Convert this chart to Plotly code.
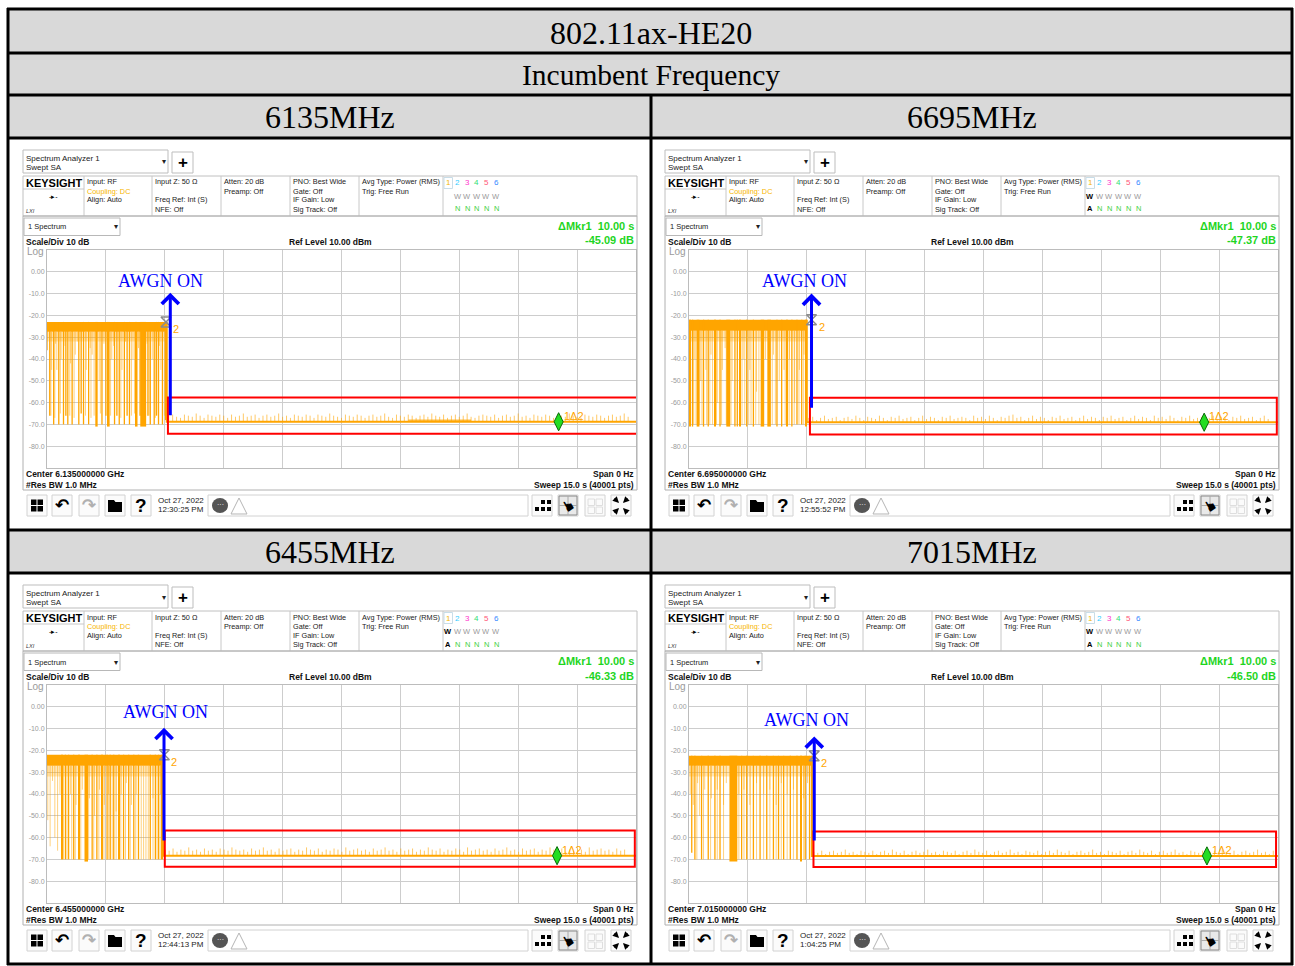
import plotly.graph_objects as go

W, H = 1295, 966

# ---------------- data ----------------
TITLE = "802.11ax-HE20"
SUBTITLE = "Incumbent Frequency"
FREQ_LABELS = ["6135MHz", "6695MHz", "6455MHz", "7015MHz"]
CENTER_GHZ = ["6.135000000", "6.695000000", "6.455000000", "7.015000000"]
DATES = ["12:30:25 PM", "12:55:52 PM", "12:44:13 PM", "1:04:25 PM"]
DELTA_T = 10.00
DELTA_DB = [-45.09, -47.37, -46.33, -46.50]
TRACE1_ON = [False, True, True, True]

Y_TICKS = [0, -10, -20, -30, -40, -50, -60, -70, -80]
Y_TICK_TEXT = ["0.00", "-10.0", "-20.0", "-30.0", "-40.0", "-50.0", "-60.0", "-70.0", "-80.0"]

# burst of the incumbent signal, then the floor after AWGN is on
BURST_END = [3.05, 3.00, 2.96, 3.13]
BURST_TOP = [-23.0, -22.0, -22.0, -22.5]
BURST_LOW = [-27.5, -27.0, -27.0, -27.0]
FLOOR_DB = [-68.8, -69.0, -68.3, -68.4]
FLOOR_BANDS = [(9.2, 10.8), None, None, None]
MKR2_T = [3.03, 3.12, 2.99, 3.19]

# deep dropouts inside the burst: (time s, level dB, width s; 0 = thin line)
P1_DROPS = [(0.00, -36, 0), (0.07, -66, 0), (0.17, -70, 0), (0.30, -70, 0), (0.42, -70, 0),
            (0.48, -66, 0), (0.53, -70, 0), (0.64, -70, 0), (0.81, -70, 0), (0.87, -65, 0),
            (0.93, -70, 0), (1.06, -70, 0), (1.26, -71, 0.06), (1.40, -70, 0), (1.50, -66, 0),
            (1.57, -71, 0.05), (1.72, -70, 0), (1.78, -66, 0), (1.84, -70, 0), (1.97, -70, 0),
            (2.04, -66, 0), (2.10, -70, 0), (2.28, -71, 0.05), (2.37, -66, 0), (2.45, -71, 0.15),
            (2.57, -66, 0), (2.63, -70, 0), (2.73, -70, 0), (2.79, -66, 0), (2.84, -70, 0),
            (2.94, -70, 0), (3.02, -68, 0)]
P2_DROPS = [(0.03, -71, 0.03), (0.09, -71, 0), (0.23, -71, 0.07), (0.37, -71, 0), (0.49, -71, 0),
            (0.66, -71, 0.03), (0.79, -71, 0), (1.00, -71, 0.10), (1.17, -71, 0), (1.23, -71, 0),
            (1.30, -71, 0.03), (1.47, -71, 0), (1.64, -71, 0), (1.87, -71, 0.09), (2.04, -71, 0.09),
            (2.24, -71, 0), (2.36, -71, 0), (2.49, -71, 0.03), (2.62, -71, 0), (2.75, -70, 0),
            (2.87, -70, 0), (2.98, -71, 0.03)]
P3_DROPS = [(0.38, -70, 0.02), (0.47, -70, 0), (0.55, -70, 0), (0.68, -70, 0), (0.81, -70, 0.02),
            (1.00, -71, 0.09), (1.15, -70, 0), (1.27, -70, 0), (1.40, -70, 0.02), (1.53, -70, 0),
            (1.61, -70, 0), (1.70, -70, 0), (1.83, -70, 0.02), (1.95, -70, 0), (2.08, -70, 0),
            (2.21, -70, 0), (2.33, -70, 0), (2.63, -70, 0), (2.76, -70, 0), (2.84, -70, 0),
            (2.93, -70, 0.02)]
P4_DROPS = [(0.07, -67, 0), (0.15, -70, 0), (0.32, -70, 0), (0.49, -70, 0), (0.66, -70, 0),
            (0.79, -70, 0), (1.13, -71, 0.20), (1.34, -70, 0), (1.47, -70, 0), (1.64, -70, 0),
            (1.81, -70, 0), (1.98, -70, 0), (2.15, -70, 0), (2.28, -70, 0), (2.41, -70, 0),
            (2.58, -70, 0), (2.75, -70, 0), (2.85, -71, 0.02), (2.96, -70, 0), (3.07, -70, 0)]

# faint dips inside the burst: (time s, level dB)
P1_DIPS = [(0.12, -45), (0.25, -45), (0.36, -40), (0.60, -42), (0.72, -38), (1.00, -45),
           (1.15, -38), (1.33, -50), (1.65, -40), (1.91, -45), (2.19, -40), (2.68, -40),
           (2.90, -45), (0.22, -33), (0.46, -34), (0.77, -32), (1.10, -35), (1.45, -33),
           (1.70, -34), (2.00, -32), (2.33, -35), (2.55, -33), (2.86, -34),
           (0.10, -66), (0.20, -67), (0.34, -65), (0.58, -66), (0.69, -67), (0.98, -66),
           (1.12, -67), (1.20, -66), (1.36, -65), (1.62, -66), (1.88, -67), (2.15, -66),
           (2.23, -65), (2.50, -67), (2.60, -66), (2.76, -67), (2.99, -66)]
P2_DIPS = [(0.15, -40), (0.30, -50), (0.43, -45), (0.56, -38), (0.72, -60), (0.85, -45),
           (0.92, -35), (1.10, -50), (1.38, -40), (1.55, -45), (1.72, -55), (1.95, -40),
           (2.15, -38), (2.30, -50), (2.42, -45), (2.56, -40), (2.69, -60), (2.81, -45),
           (2.93, -38),
           (0.12, -70), (0.18, -70), (0.27, -70), (0.33, -70), (0.45, -70), (0.53, -70),
           (0.60, -70), (0.70, -70), (0.83, -70), (0.95, -70), (1.07, -70), (1.35, -70),
           (1.42, -70), (1.52, -70), (1.58, -70), (1.70, -70), (1.78, -70), (2.12, -70),
           (2.20, -70), (2.45, -70), (2.55, -70), (2.68, -70), (2.80, -70), (2.92, -70)]
P3_DIPS = [(0.02, -52), (0.08, -64), (0.14, -34), (0.20, -60), (0.27, -66), (0.33, -40),
           (0.60, -40), (0.74, -45), (0.90, -38), (1.08, -42), (1.21, -50), (1.34, -38),
           (1.46, -45), (1.57, -40), (1.76, -48), (1.89, -40), (2.02, -35), (2.15, -45),
           (2.27, -40), (2.40, -70), (2.46, -70), (2.52, -70), (2.70, -42), (2.89, -40),
           (0.42, -70), (0.51, -70), (0.63, -70), (0.72, -70), (0.86, -70), (1.06, -70),
           (1.19, -70), (1.32, -70), (1.45, -70), (1.57, -70), (1.66, -70), (1.76, -70),
           (1.88, -70), (2.00, -70), (2.12, -70), (2.26, -70), (2.58, -70), (2.70, -70),
           (2.80, -70), (2.88, -70)]
P4_DIPS = [(0.03, -40), (0.11, -45), (0.22, -35), (0.27, -50), (0.40, -38), (0.57, -42),
           (0.72, -38), (0.88, -45), (0.95, -35), (1.27, -40), (1.40, -38), (1.55, -45),
           (1.72, -35), (1.90, -40), (2.06, -38), (2.22, -45), (2.35, -35), (2.50, -40),
           (2.66, -38), (2.92, -42), (3.02, -35),
           (0.20, -70), (0.37, -70), (0.55, -70), (0.72, -70), (0.88, -70), (1.27, -70),
           (1.40, -70), (1.56, -70), (1.72, -70), (1.90, -70), (2.06, -70), (2.22, -70),
           (2.35, -70), (2.50, -70), (2.66, -70), (2.92, -70)]

# peaks of the small spikes on the floor, one every 0.1 s after the burst
P1_SPIKES = [-66.0, -65.5, -66.5, -67.0, -65.5, -66.0, -66.5, -65.0, -66.0, -67.0,
             -65.5, -66.0, -66.5, -65.5, -66.0, -67.0, -65.5, -66.5, -66.0, -65.0,
             -66.5, -66.0, -65.5, -67.0, -66.0, -65.5, -66.5, -66.0, -65.0, -66.5,
             -66.0, -67.0, -65.5, -66.0, -66.5, -65.5, -66.0, -67.0, -65.5, -66.0,
             -66.5, -65.0, -66.0, -66.5, -67.0, -65.5, -66.0, -66.5, -65.5, -66.0,
             -67.0, -66.0, -65.5, -66.5, -66.0, -65.0, -66.5, -67.0, -65.5, -66.0,
             -66.5, -65.5, -66.0, -67.0, -66.0, -65.5, -66.5, -65.0, -66.0, -66.5,
             -65.5, -67.0, -66.0, -65.5, -66.5, -66.0, -65.0, -66.5, -67.0, -66.0,
             -65.5, -66.0, -66.5, -65.5, -67.0, -66.0, -65.5, -66.5, -66.0, -65.0,
             -66.5, -66.0, -67.0, -65.5, -66.0, -66.5, -65.5, -66.0, -67.0, -65.5,
             -66.0, -66.5, -65.0, -66.0, -66.5, -67.0, -65.5, -66.0, -66.5, -65.5,
             -66.0, -67.0, -66.0, -65.5, -66.5, -66.0, -65.0, -66.5]
P2_SPIKES = [-67.0, -66.5, -68.0, -67.0, -66.0, -67.5, -67.0, -66.5, -68.0, -67.0,
             -66.5, -67.5, -66.0, -67.0, -68.0, -66.5, -67.0, -67.5, -66.0, -67.0,
             -68.0, -66.5, -67.0, -66.0, -67.5, -67.0, -66.5, -68.0, -67.0, -66.0,
             -67.5, -66.5, -67.0, -68.0, -66.5, -67.0, -66.0, -67.5, -67.0, -66.5,
             -67.0, -68.0, -66.0, -67.0, -66.5, -67.5, -66.0, -67.0, -68.0, -66.5,
             -67.0, -66.0, -65.5, -67.0, -66.5, -68.0, -67.0, -66.0, -67.5, -66.5,
             -67.0, -68.0, -66.5, -67.0, -66.0, -67.5, -67.0, -66.5, -68.0, -67.0,
             -66.0, -67.5, -66.5, -67.0, -68.0, -66.5, -67.0, -66.0, -67.5, -67.0,
             -66.5, -68.0, -67.0, -66.0, -67.5, -66.5, -67.0, -68.0, -66.0, -67.0,
             -66.5, -67.5, -66.0, -67.0, -68.0, -66.5, -67.0, -66.0, -67.5, -67.0,
             -66.5, -68.0, -67.0, -66.0, -67.5, -66.5, -67.0, -68.0, -66.5, -67.0,
             -66.0, -67.5, -67.0, -66.5, -68.0, -67.0, -66.0, -67.5]
P3_SPIKES = [-65.5, -66.0, -65.0, -66.5, -65.5, -66.0, -64.5, -66.0, -65.5, -66.5,
             -65.0, -66.0, -65.5, -66.5, -65.0, -65.5, -66.0, -64.5, -65.5, -66.0,
             -65.5, -66.5, -65.0, -66.0, -65.5, -64.5, -66.0, -65.5, -66.5, -65.0,
             -66.0, -65.5, -65.0, -66.5, -65.5, -66.0, -64.5, -65.5, -66.0, -65.0,
             -66.5, -65.5, -66.0, -65.0, -65.5, -66.5, -64.5, -66.0, -65.5, -65.0,
             -66.0, -65.5, -66.5, -65.0, -66.0, -65.5, -64.5, -66.0, -65.5, -66.5,
             -65.0, -66.0, -65.5, -65.0, -66.5, -65.5, -66.0, -64.5, -65.5, -66.0,
             -65.0, -66.5, -65.5, -66.0, -65.0, -65.5, -66.5, -64.5, -66.0, -65.5,
             -65.0, -66.0, -65.5, -66.5, -65.0, -66.0, -65.5, -64.5, -66.0, -65.5,
             -66.5, -65.0, -66.0, -65.5, -65.0, -66.5, -65.5, -66.0, -64.5, -65.5,
             -66.0, -65.0, -66.5, -65.5, -66.0, -65.0, -65.5, -66.5, -64.5, -66.0,
             -65.5, -65.0, -66.0, -65.5, -66.5, -65.0, -66.0, -65.5]
P4_SPIKES = [-66.5, -67.0, -66.0, -67.5, -66.5, -66.0, -67.0, -66.5, -65.5, -67.0,
             -66.5, -67.5, -66.0, -66.5, -67.0, -66.0, -67.5, -66.5, -66.0, -67.0,
             -65.5, -66.5, -67.0, -66.0, -67.5, -66.5, -66.0, -67.0, -66.5, -65.5,
             -67.0, -66.5, -67.5, -66.0, -66.5, -67.0, -66.0, -67.5, -66.5, -66.0,
             -67.0, -65.5, -66.5, -67.0, -66.0, -67.5, -66.5, -66.0, -67.0, -66.5,
             -65.5, -67.0, -66.5, -67.5, -66.0, -66.5, -67.0, -66.0, -67.5, -66.5,
             -66.0, -67.0, -65.5, -66.5, -67.0, -66.0, -67.5, -66.5, -66.0, -67.0,
             -66.5, -65.5, -67.0, -66.5, -67.5, -66.0, -66.5, -67.0, -66.0, -67.5,
             -66.5, -66.0, -67.0, -65.5, -66.5, -67.0, -66.0, -67.5, -66.5, -66.0,
             -67.0, -66.5, -65.5, -67.0, -66.5, -67.5, -66.0, -66.5, -67.0, -66.0,
             -67.5, -66.5, -66.0, -67.0, -65.5, -66.5, -67.0, -66.0, -67.5, -66.5,
             -66.0, -67.0, -66.5, -65.5, -67.0, -66.5, -67.5, -66.0]

DROPS = [P1_DROPS, P2_DROPS, P3_DROPS, P4_DROPS]
DIPS = [P1_DIPS, P2_DIPS, P3_DIPS, P4_DIPS]
SPIKES = [P1_SPIKES, P2_SPIKES, P3_SPIKES, P4_SPIKES]
SPIKE_STEP = 0.1

# ---------------- layout of the page (pixels) ----------------
OFFSETS = [(0, 0), (642, 0), (0, 435), (642, 435)]
AWGN_XY = [(2.88, -4.1), (2.93, -4.1), (3.03, -2.2), (2.98, -6.0)]
ARROWS = [(3.14, -66.5, -9.6), (3.12, -63.0, -10.0), (2.98, -62.0, -9.6), (3.19, -62.0, -13.6)]
RED_BOXES = [(3.08, 15.03, -57.7, -74.3), (3.08, 14.97, -57.8, -74.6),
             (3.00, 14.97, -56.7, -73.4), (3.17, 14.95, -57.2, -73.5)]

ORANGE = "#ffa500"
LIGHT_OR = "rgba(255,165,0,0.5)"
GREEN = "#1fd51f"
SANS = "Liberation Sans"
SERIF = "Liberation Serif"

shapes, anns = [], []


def X(p):
    return p / W


def Y(p):
    return 1 - p / H


def txt(x, y, s, size=7.5, color="#222", bold=False, xa="left", ya="middle", fam=SANS, **kw):
    if bold:
        s = "<b>" + s + "</b>"
    anns.append(dict(x=X(x), y=Y(y), xref="paper", yref="paper", text=s, showarrow=False,
                     xanchor=xa, yanchor=ya, borderpad=0,
                     font=dict(size=size, color=color, family=fam), **kw))


def box(x0, y0, x1, y1, line="#c8c8c8", lw=1, fill="rgba(0,0,0,0)", layer="above"):
    shapes.append(dict(type="rect", xref="paper", yref="paper",
                       x0=X(x0), x1=X(x1), y0=Y(y1), y1=Y(y0),
                       line=dict(color=line, width=lw), fillcolor=fill, layer=layer))


def hline(x0, x1, y, color="black", lw=3):
    shapes.append(dict(type="line", xref="paper", yref="paper", x0=X(x0), x1=X(x1),
                       y0=Y(y), y1=Y(y), line=dict(color=color, width=lw)))


def vline(x, y0, y1, color="black", lw=3):
    shapes.append(dict(type="line", xref="paper", yref="paper", x0=X(x), x1=X(x),
                       y0=Y(y0), y1=Y(y1), line=dict(color=color, width=lw)))


def path(pts, fill, line="rgba(0,0,0,0)", lw=0):
    d = "M" + " L".join(f"{X(a):.5f},{Y(b):.5f}" for a, b in pts) + " Z"
    shapes.append(dict(type="path", xref="paper", yref="paper", path=d,
                       fillcolor=fill, line=dict(color=line, width=lw)))


def segs(ts, lo, hi):
    xs, ys = [], []
    for t, a, b in zip(ts, lo, hi):
        xs += [t, t, None]
        ys += [a, b, None]
    return xs, ys


# ---------------- table ----------------
for y0, y1 in [(9, 53), (53, 95), (95, 138), (530, 573)]:
    box(8, y0, 1292, y1, line="rgba(0,0,0,0)", lw=0, fill="#d9d9d9", layer="below")
for y in [9, 53, 95, 138, 530, 573, 964]:
    hline(7, 1293, y)
vline(8, 8, 965)
vline(1292, 8, 965)
vline(651, 95, 965)

txt(651, 33, TITLE, size=32, color="black", xa="center", fam=SERIF)
txt(651, 75, SUBTITLE, size=29.5, color="black", xa="center", fam=SERIF)
for k, (cx, cy) in enumerate([(330, 117), (972, 117), (330, 552), (972, 552)]):
    txt(cx, cy, FREQ_LABELS[k], size=32, color="black", xa="center", fam=SERIF)

fig = go.Figure()
TRACE_COLORS = ["#f2b600", "#33ccff", "#ff33cc", "#33dd77", "#ff5577", "#3388ff"]
TRACE_X = [448, 457.6, 467.2, 476.8, 486.4, 496]

for k in range(4):
    ox, oy = OFFSETS[k]
    sfx = "" if k == 0 else str(k + 1)
    xr, yr = "x" + sfx, "y" + sfx

    # --- top controls
    box(23 + ox, 150 + oy, 168 + ox, 173 + oy, line="#bdbdbd")
    txt(25 + ox, 158 + oy, "Spectrum Analyzer 1", size=8)
    txt(25 + ox, 167.5 + oy, "Swept SA", size=8)
    txt(164 + ox, 162 + oy, "▾", size=8, xa="center")
    box(172 + ox, 152 + oy, 193 + ox, 173 + oy, line="#bdbdbd")
    txt(182.5 + ox, 162.5 + oy, "+", size=17, bold=True, xa="center", color="black")

    # --- settings bar
    box(23 + ox, 176 + oy, 637 + ox, 216 + oy, line="#c0c0c0")
    for sx in [84, 152, 221, 290, 359, 443]:
        vline(sx + ox, 176 + oy, 216 + oy, color="#c8c8c8", lw=1)
    hline(23 + ox, 84 + ox, 189 + oy, color="#c8c8c8", lw=1)
    txt(25 + ox, 182.5 + oy, "KEYSIGHT", size=11, bold=True, color="black")
    txt(53 + ox, 196 + oy, "-▸-", size=7, xa="center", color="black")
    txt(25 + ox, 211 + oy, "<i>LXI</i>", size=5.5, color="#333")
    rows = [182, 191, 200, 209.5]
    col_text = [
        (86, ["Input: RF", "<span style='color:#f7b500'>Coupling: DC</span>", "Align: Auto", ""]),
        (154, ["Input Z: 50 Ω", "", "Freq Ref: Int (S)", "NFE: Off"]),
        (223, ["Atten: 20 dB", "Preamp: Off", "", ""]),
        (292, ["PNO: Best Wide", "Gate: Off", "IF Gain: Low", "Sig Track: Off"]),
        (361, ["Avg Type: Power (RMS)", "Trig: Free Run", "", ""]),
    ]
    for cx, lines in col_text:
        for ry, s in zip(rows, lines):
            if s:
                txt(cx + ox, ry + oy, s, size=7.3)
    box(444 + ox, 177.5 + oy, 452.5 + ox, 188.5 + oy, line="#c8dde8")
    for i in range(6):
        txt(TRACE_X[i] + ox, 183 + oy, str(i + 1), size=8, color=TRACE_COLORS[i], xa="center")
        if i == 0:
            if TRACE1_ON[k]:
                txt(TRACE_X[i] + ox, 196 + oy, "W", size=7.5, bold=True, color="black", xa="center")
                txt(TRACE_X[i] + ox, 209 + oy, "A", size=7.5, bold=True, color="black", xa="center")
            continue
        txt(TRACE_X[i] + ox, 196 + oy, "W", size=7.5, color="#9a9a9a", xa="center")
        txt(TRACE_X[i] + ox, 209 + oy, "N", size=7.5, color="#3fcf3f", xa="center")

    # --- graph window
    box(23 + ox, 216 + oy, 637 + ox, 490 + oy, line="#b0b0b0")
    box(24 + ox, 218 + oy, 120 + ox, 235.5 + oy, line="#b8b8b8")
    txt(27 + ox, 227 + oy, "1 Spectrum", size=7.5)
    txt(116 + ox, 227 + oy, "▾", size=8, xa="center")
    txt(635 + ox, 226 + oy, f"ΔMkr1  {DELTA_T:.2f} s", size=11, bold=True, color=GREEN, xa="right")
    txt(635 + ox, 240.5 + oy, f"{DELTA_DB[k]:.2f} dB", size=11, bold=True, color=GREEN, xa="right")
    txt(25 + ox, 241.5 + oy, "Scale/Div 10 dB", size=8.5, bold=True, color="#111")
    txt(330 + ox, 241.5 + oy, "Ref Level 10.00 dBm", size=8.5, bold=True, color="#111", xa="center")
    txt(26 + ox, 251.5 + oy, "Log", size=10, color="#9a9a9a")
    txt(25 + ox, 474 + oy, f"Center {CENTER_GHZ[k]} GHz", size=8.5, bold=True, color="#111")
    txt(25 + ox, 485 + oy, "#Res BW 1.0 MHz", size=8.5, bold=True, color="#111")
    txt(635 + ox, 474 + oy, "Span 0 Hz", size=8.5, bold=True, color="#111", xa="right")
    txt(635 + ox, 485 + oy, "Sweep 15.0 s (40001 pts)", size=8.5, bold=True, color="#111", xa="right")

    # --- toolbar
    for bx in [27, 52, 79, 105, 131, 532, 558, 585, 611]:
        box(bx + ox, 495 + oy, bx + 20 + ox, 516 + oy, line="#d2d2d2", fill="#fbfbfb")
    for qx, qy in [(31, 499.5), (37.5, 499.5), (31, 506), (37.5, 506)]:
        box(qx + ox, qy + oy, qx + 5.5 + ox, qy + 5.5 + oy, line="rgba(0,0,0,0)", lw=0, fill="black")
    txt(62 + ox, 505 + oy, "↶", size=17, bold=True, color="black", xa="center", fam="DejaVu Sans")
    txt(89 + ox, 505 + oy, "↷", size=17, bold=True, color="#b0b0b0", xa="center", fam="DejaVu Sans")
    path([(108 + ox, 500 + oy), (114 + ox, 500 + oy), (115.5 + ox, 502 + oy), (122 + ox, 502 + oy),
          (122 + ox, 512 + oy), (108 + ox, 512 + oy)], "black")
    txt(141 + ox, 505.5 + oy, "?", size=19, bold=True, color="black", xa="center")
    txt(157 + ox, 500.5 + oy, "Oct 27, 2022", size=8, color="#222")
    txt(157 + ox, 509.5 + oy, DATES[k], size=8, color="#222")
    box(208 + ox, 495 + oy, 528 + ox, 516 + oy, line="#d2d2d2", fill="white")
    shapes.append(dict(type="circle", xref="paper", yref="paper", x0=X(212 + ox), x1=X(228 + ox),
                       y0=Y(513 + oy), y1=Y(498 + oy), fillcolor="#555", line=dict(width=0)))
    txt(220 + ox, 504.5 + oy, "···", size=7, color="white", xa="center")
    path([(231 + ox, 514 + oy), (239 + ox, 498 + oy), (247 + ox, 514 + oy)], "white", line="#b5b5b5", lw=1)
    for dx, dy in [(541, 500), (547, 500), (535, 507), (541, 507), (547, 507)]:
        box(dx + ox, dy + oy, dx + 4 + ox, dy + 4 + oy, line="rgba(0,0,0,0)", lw=0, fill="black")
    box(559 + ox, 496 + oy, 577 + ox, 515 + oy, line="#888", fill="#e9e9e9")
    vline(568 + ox, 496 + oy, 515 + oy, color="#aaa", lw=1)
    hline(559 + ox, 577 + ox, 505.5 + oy, color="#aaa", lw=1)
    txt(569 + ox, 506 + oy, "☛", size=15, color="black", xa="center", fam="DejaVu Sans", textangle=-120)
    for gx, gy in [(588, 499), (596, 499), (588, 507), (596, 507)]:
        box(gx + ox, gy + oy, gx + 6.5 + ox, gy + 6.5 + oy, line="#dedede")
    for hx, hy, dx, dy in [(619, 503, -6, -6), (623, 503, 6, -6), (619, 508, -6, 6), (623, 508, 6, 6)]:
        anns.append(dict(x=X(hx + ox), y=Y(hy + oy), xref="paper", yref="paper", text="",
                         showarrow=True, ax=dx, ay=dy, arrowhead=2, arrowsize=0.9,
                         arrowwidth=1.4, arrowcolor="black", standoff=0))

    # --- the trace
    top, low, end, floor = BURST_TOP[k], BURST_LOW[k], BURST_END[k], FLOOR_DB[k]
    fig.add_trace(go.Bar(x=[end / 2], y=[top - low], base=[low], width=[end],
                         marker=dict(color=ORANGE, line=dict(width=0)), xaxis=xr, yaxis=yr))
    fig.add_trace(go.Bar(x=[end / 2], y=[low + 32], base=[-32], width=[end],
                         marker=dict(color="rgba(255,165,0,0.28)", line=dict(width=0)),
                         xaxis=xr, yaxis=yr))
    wide = [d for d in DROPS[k] if d[2] > 0]
    thin = [d for d in DROPS[k] if d[2] == 0]
    fig.add_trace(go.Bar(x=[d[0] for d in wide], y=[top - d[1] for d in wide],
                         base=[d[1] for d in wide], width=[d[2] for d in wide],
                         marker=dict(color=ORANGE, line=dict(width=0)), xaxis=xr, yaxis=yr))
    sx, sy = segs([d[0] for d in thin], [d[1] for d in thin], [top] * len(thin))
    fig.add_trace(go.Scatter(x=sx, y=sy, mode="lines", line=dict(color=ORANGE, width=1.3),
                             xaxis=xr, yaxis=yr))
    dx_, dy_ = segs([d[0] for d in DIPS[k]], [d[1] for d in DIPS[k]], [low] * len(DIPS[k]))
    fig.add_trace(go.Scatter(x=dx_, y=dy_, mode="lines", line=dict(color=LIGHT_OR, width=1),
                             xaxis=xr, yaxis=yr))
    # spikes on the floor
    st = [end + 0.05 + SPIKE_STEP * i for i in range(len(SPIKES[k]))]
    st = [t for t in st if t < 15]
    px_, py_ = segs(st, [floor] * len(st), SPIKES[k][:len(st)])
    fig.add_trace(go.Scatter(x=px_, y=py_, mode="lines",
                             line=dict(color="rgba(255,165,0,0.6)", width=1),
                             xaxis=xr, yaxis=yr))
    fig.add_trace(go.Scatter(x=[end, end, 15], y=[top, floor, floor], mode="lines",
                             line=dict(color=ORANGE, width=2), xaxis=xr, yaxis=yr))
    if FLOOR_BANDS[k]:
        b0, b1 = FLOOR_BANDS[k]
        fig.add_trace(go.Bar(x=[(b0 + b1) / 2], y=[1.0], base=[floor], width=[b1 - b0],
                             marker=dict(color="rgba(255,165,0,0.7)", line=dict(width=0)),
                             xaxis=xr, yaxis=yr))

    # markers
    m2 = MKR2_T[k]
    fig.add_trace(go.Scatter(x=[m2], y=[top], mode="markers",
                             marker=dict(symbol="hourglass-open", size=10, color="#8c8c8c",
                                         line=dict(width=1.5, color="#8c8c8c")),
                             xaxis=xr, yaxis=yr))
    fig.add_trace(go.Scatter(x=[m2 + DELTA_T], y=[floor], mode="markers",
                             marker=dict(symbol="diamond-tall", size=13, color="#22dd22",
                                         line=dict(width=1, color="#0a6a0a")),
                             xaxis=xr, yaxis=yr))
    anns.append(dict(x=m2, y=top, xref=xr, yref=yr, text="2", showarrow=False, xshift=10,
                     yshift=-7, font=dict(size=11, color=ORANGE, family=SANS)))
    anns.append(dict(x=m2 + DELTA_T, y=floor, xref=xr, yref=yr, text="1Δ2", showarrow=False,
                     xshift=15, yshift=6, font=dict(size=11, color=ORANGE, family=SANS)))

    # overlays drawn on the screenshot
    bx0, bx1, by0, by1 = RED_BOXES[k]
    shapes.append(dict(type="rect", xref=xr, yref=yr, x0=bx0, x1=bx1, y0=by1, y1=by0,
                       line=dict(color="#ff0000", width=2)))
    at, a0, a1 = ARROWS[k]
    anns.append(dict(x=at, y=a1, ax=at, ay=a0, xref=xr, yref=yr, axref=xr, ayref=yr, text="",
                     showarrow=True, arrowhead=4, arrowsize=1.1, arrowwidth=3,
                     arrowcolor="#0000ff", standoff=0, startstandoff=0))
    lx, ly = AWGN_XY[k]
    anns.append(dict(x=lx, y=ly, xref=xr, yref=yr, text="AWGN ON", showarrow=False,
                     font=dict(size=18, color="#0000ff", family=SERIF)))

    fig.update_layout(**{
        "xaxis" + sfx: dict(domain=[X(47 + ox), X(636 + ox)], range=[0, 15], dtick=1.5, tick0=0,
                            showgrid=True, gridcolor="#cdcdcd", gridwidth=1, zeroline=False,
                            showticklabels=False, ticks="", showline=True, linecolor="#bcbcbc",
                            mirror=True, anchor=yr, fixedrange=True),
        "yaxis" + sfx: dict(domain=[Y(468 + oy), Y(250 + oy)], range=[-90, 10],
                            tickvals=Y_TICKS, ticktext=Y_TICK_TEXT, showgrid=True,
                            gridcolor="#cdcdcd", gridwidth=1, zeroline=False, ticks="",
                            showline=True, linecolor="#bcbcbc", mirror=True, anchor=xr,
                            tickfont=dict(size=7, color="#9a9a9a", family=SANS),
                            fixedrange=True),
    })

fig.update_layout(width=W, height=H, margin=dict(l=0, r=0, t=0, b=0), autosize=False,
                  paper_bgcolor="white", plot_bgcolor="white", showlegend=False,
                  barmode="overlay", shapes=shapes, annotations=anns, hovermode=False)

fig.write_html("out.html", config={"displayModeBar": False},
               post_script="document.body.style.margin='0';document.body.style.overflow='hidden';")
